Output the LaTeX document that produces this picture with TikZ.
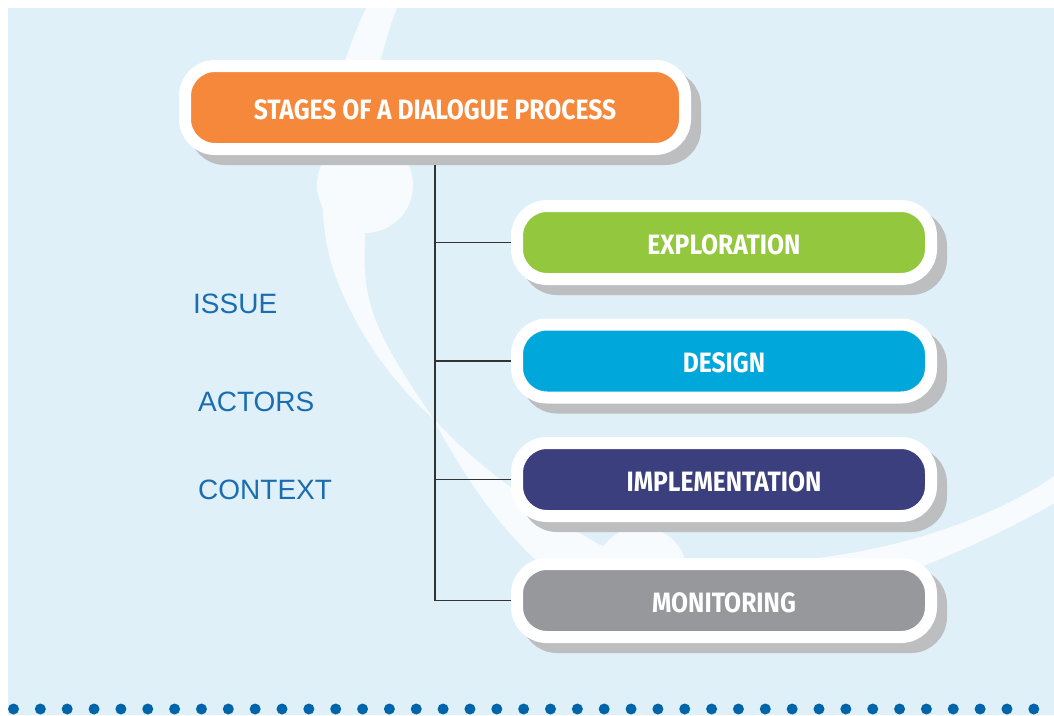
\documentclass[tikz,border=0pt]{standalone}
\usepackage{fontspec}
\newfontfamily\stagefont{Fira Sans}[FakeStretch=0.88]
\newfontfamily\labelfont{Liberation Sans}
\definecolor{paleblue}{HTML}{DFF0F9}
\definecolor{swirlwhite}{HTML}{F8FBFE}
\definecolor{shadowgrey}{HTML}{BCBEC0}
\definecolor{linkgrey}{HTML}{333333}
\definecolor{labelblue}{HTML}{1B6DB0}
\definecolor{dotblue}{HTML}{0064A8}
\definecolor{stageorange}{HTML}{F5883A}
\definecolor{stagegreen}{HTML}{93C83E}
\definecolor{stageblue}{HTML}{00A7DB}
\definecolor{stagenavy}{HTML}{3C3F7E}
\definecolor{stagegrey}{HTML}{97989C}
\begin{document}
\begin{tikzpicture}[x=1pt,y=-1pt,
  stage/.style={draw=white,line width=12pt,rounded corners=30pt,
    minimum width=414pt,minimum height=73pt,inner sep=0pt,text=white,
    font=\stagefont\bfseries\fontsize{28}{32}\selectfont,
    text height=23pt,text depth=0pt,
    preaction={draw=shadowgrey,fill=shadowgrey,line width=12pt,
      transform canvas={shift={(10pt,-10pt)}}}},
  side/.style={anchor=west,inner sep=0pt,text=labelblue,
    font=\labelfont\fontsize{28}{32}\selectfont},
  link/.style={draw=linkgrey,line width=1.2pt}]
 \useasboundingbox (0,0) rectangle (1054,715);
 \fill[paleblue] (8,8) rectangle (1054,715);
 % background swirl
 \begin{scope}
  \clip (8,8) rectangle (1054,715);
  \fill[swirlwhite] (370,0) .. controls (330,80) and (305,200) .. (337,280)
   .. controls (360,340) and (400,390) .. (433,418)
   .. controls (372,330) and (362,300) .. (365,240)
   .. controls (360,150) and (375,60) .. (400,0) -- cycle;
  \fill[swirlwhite] (365,185) circle (48pt);
  \fill[swirlwhite] (433,418) .. controls (460,470) and (505,540) .. (560,580)
   .. controls (640,650) and (850,620) .. (1060,500) -- (1060,472)
   .. controls (960,545) and (760,590) .. (600,545)
   .. controls (530,505) and (470,460) .. (433,418) -- cycle;
  \fill[swirlwhite] (641,573) circle (46pt);
 \end{scope}
 % dotted rule
 \foreach \i in {0,...,39}
  \fill[dotblue] (13.5+26.85*\i,709) circle (5.5pt);
 % stages
 \node[stage,fill=stageorange,minimum width=500pt,minimum height=83pt] (title) at (435,107.5) {STAGES OF A DIALOGUE PROCESS};
 \node[stage,fill=stagegreen] (exploration) at (724,242.5) {EXPLORATION};
 \node[stage,fill=stageblue] (design) at (724,361) {DESIGN};
 \node[stage,fill=stagenavy] (implementation) at (724,479.5) {IMPLEMENTATION};
 \node[stage,fill=stagegrey] (monitoring) at (724,600.5) {MONITORING};
 % connectors
 \draw[link,shorten <=10pt] (title.south) |- (monitoring.west);
 \foreach \s in {exploration,design,implementation}
  \draw[link] (title.south |- \s.west) -- (\s.west);
 % side labels
 \node[side] (issue) at (193,304) {ISSUE};
 \node[side] (actors) at (198,402) {ACTORS};
 \node[side] (context) at (198,490) {CONTEXT};
\end{tikzpicture}
\end{document}
